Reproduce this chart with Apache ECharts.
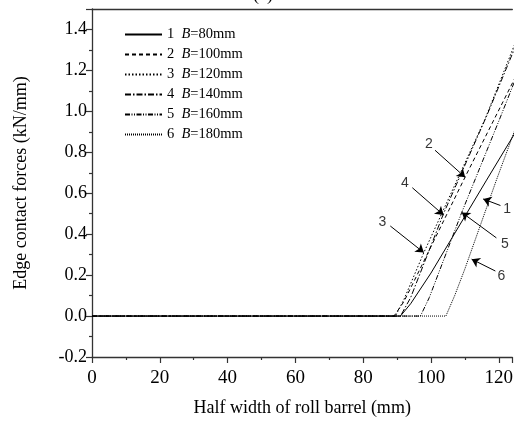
<!DOCTYPE html>
<html>
<head>
<meta charset="utf-8">
<script src="https://cdn.jsdelivr.net/npm/echarts@6/dist/echarts.min.js"></script>
<style>
  html, body { margin: 0; padding: 0; background: #fff; }
  #chart { width: 516px; height: 422px; }
</style>
</head>
<body>
<div id="chart"></div>
<script>
// Roll barrel widths B (mm) for each curve
const widthsB = [80, 100, 120, 140, 160, 180];

// Edge contact force along the half width of roll barrel (x in mm, y in kN/mm)
const curve1X = [0, 91.0, 94.0, 100.0, 116.4, 125];
const curve1Y = [0, 0, 0.06, 0.21, 0.664, 0.90];
const curve2X = [0, 89.1, 92.0, 95.0, 110.1, 125];
const curve2Y = [0, 0, 0.07, 0.17, 0.68, 1.17];
const curve3X = [0, 89.5, 92.0, 97.9, 115.9, 125];
const curve3Y = [0, 0, 0.08, 0.31, 0.96, 1.34];
const curve4X = [0, 91.0, 94.0, 103.7, 116.5, 125];
const curve4Y = [0, 0, 0.09, 0.50, 0.98, 1.32];
const curve5X = [0, 96.9, 99.5, 109.1, 120.2, 125];
const curve5Y = [0, 0, 0.09, 0.507, 0.96, 1.16];
const curve6X = [0, 104.4, 107.0, 110.0, 119.3, 125];
const curve6Y = [0, 0, 0.10, 0.23, 0.664, 0.92];

// Dash patterns for the six curves
const dashes = ['solid', [4, 3], [1.5, 2], [6, 2, 1.5, 2], [5, 1.5, 1, 1.5, 1, 1.5], [1, 1]];

// Callout numbers: label position and arrow from -> to (data units)
const noteText = ['1', '2', '3', '4', '5', '6'];
const noteLabel = [[122.5, 0.52], [99.4, 0.84], [85.7, 0.457], [92.3, 0.647], [121.8, 0.35], [120.8, 0.196]];
const arrowFrom = [[120.5, 0.54], [101.2, 0.81], [88.0, 0.44], [94.5, 0.627], [119.3, 0.382], [119.0, 0.22]];
const arrowTo = [[115.4, 0.572], [110.1, 0.678], [97.9, 0.31], [103.7, 0.494], [109.1, 0.506], [112.0, 0.278]];

// Axis ticks
const xTicks = { min: 0, max: 124, interval: 20 };
const yTicks = { min: -0.2, max: 1.5, interval: 0.2 };

const curvesX = [curve1X, curve2X, curve3X, curve4X, curve5X, curve6X];
const curvesY = [curve1Y, curve2Y, curve3Y, curve4Y, curve5Y, curve6Y];
const names = widthsB.map((b, i) => (i + 1) + '  B=' + b + 'mm');

const serif = '"Liberation Serif", "Times New Roman", serif';
const sans = '"Liberation Sans", Arial, sans-serif';
const axisColor = '#333';

const series = curvesX.map((xs, i) => ({
  name: names[i],
  type: 'line',
  data: xs.map((x, k) => [x, curvesY[i][k]]),
  showSymbol: false,
  symbol: 'none',
  clip: true,
  lineStyle: { color: '#000', width: 1, type: dashes[i] },
  itemStyle: { color: '#000' },
  z: 3
}));

series.push({
  name: 'notes',
  type: 'scatter',
  symbolSize: 0,
  itemStyle: { color: '#000' },
  data: noteLabel.map((p, i) => ({ value: p, label: { formatter: noteText[i] } })),
  label: {
    show: true, position: 'inside', color: '#000',
    fontFamily: sans, fontSize: 14
  },
  markLine: {
    silent: true,
    symbol: ['none', 'arrow'],
    symbolSize: 8,
    label: { show: false },
    itemStyle: { color: '#000' },
    lineStyle: { color: '#000', width: 1, type: 'solid' },
    data: arrowFrom.map((p, i) => [{ coord: p }, { coord: arrowTo[i] }])
  },
  z: 4
});

const chart = echarts.init(document.getElementById('chart'));
chart.setOption({
  animation: false,
  backgroundColor: '#fff',
  grid: { left: 92, right: 0, top: 9, bottom: 65 },
  legend: {
    data: names,
    orient: 'vertical',
    left: 124,
    top: 27,
    padding: 0,
    itemWidth: 37,
    itemHeight: 14,
    itemGap: 5,
    itemStyle: { opacity: 0 },
    formatter: function (name) {
      const parts = name.split('  B=');
      return '{n|' + parts[0] + '  }{i|B}{n|=' + parts[1] + '}';
    },
    textStyle: {
      color: '#000',
      rich: {
        n: { fontFamily: serif, fontSize: 14.5, color: '#000' },
        i: { fontFamily: serif, fontSize: 14.5, fontStyle: 'italic', color: '#000' }
      }
    }
  },
  graphic: [{
    type: 'text', left: 253, top: -14,
    style: { text: '(a)', fontFamily: serif, fontSize: 18, fill: '#000' }
  }],
  xAxis: [{
    type: 'value',
    min: xTicks.min, max: xTicks.max, interval: xTicks.interval,
    name: 'Half width of roll barrel (mm)',
    nameLocation: 'middle', nameGap: 42,
    nameTextStyle: { fontFamily: serif, fontSize: 18, color: '#000' },
    axisLine: { onZero: false, lineStyle: { color: axisColor, width: 1.3 } },
    axisTick: { show: true, length: 6, lineStyle: { color: axisColor, width: 1.2 } },
    minorTick: { show: true, splitNumber: 2, length: 3, lineStyle: { color: axisColor, width: 1.2 } },
    axisLabel: { fontFamily: serif, fontSize: 19, color: '#000', margin: 12 },
    splitLine: { show: false }
  }, {
    type: 'value', position: 'top',
    min: xTicks.min, max: xTicks.max,
    axisLine: { show: true, onZero: false, lineStyle: { color: axisColor, width: 1.3 } },
    axisTick: { show: false }, axisLabel: { show: false }, splitLine: { show: false }
  }],
  yAxis: {
    type: 'value',
    min: yTicks.min, max: yTicks.max, interval: yTicks.interval,
    name: 'Edge contact forces (kN/mm)',
    nameLocation: 'middle', nameGap: 62,
    nameTextStyle: { fontFamily: serif, fontSize: 18, color: '#000' },
    axisLine: { show: true, onZero: false, lineStyle: { color: axisColor, width: 1.3 } },
    axisTick: { show: true, length: 6, lineStyle: { color: axisColor, width: 1.2 } },
    minorTick: { show: true, splitNumber: 2, length: 3, lineStyle: { color: axisColor, width: 1.2 } },
    axisLabel: {
      fontFamily: serif, fontSize: 18, color: '#000', margin: 5,
      formatter: v => (v > 1.45 ? '' : v.toFixed(1))
    },
    splitLine: { show: false }
  },
  series: series
});
</script>
</body>
</html>
